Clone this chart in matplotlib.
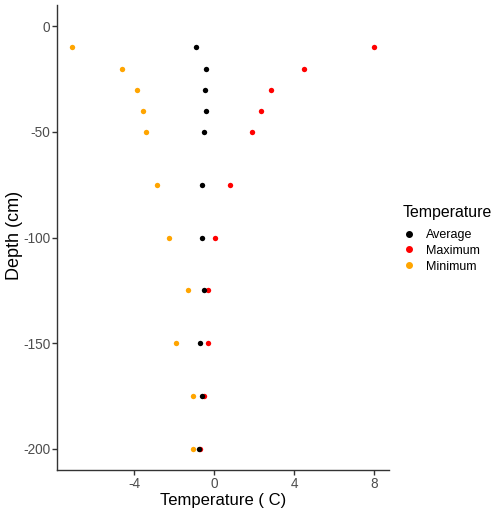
import numpy as np
import matplotlib
matplotlib.use("Agg")
import matplotlib.pyplot as plt

plt.rcParams['font.family'] = ['Liberation Sans', 'DejaVu Sans']
plt.rcParams['axes.unicode_minus'] = False

# depth of each sensor (cm) and temperatures (C)
depth = [-10, -20, -30, -40, -50, -75, -100, -125, -150, -175, -200]
t_avg = [-0.9, -0.41, -0.45, -0.43, -0.52, -0.6, -0.6, -0.53, -0.7, -0.63, -0.75]
t_max = [8.0, 4.5, 2.82, 2.35, 1.87, 0.79, 0.05, -0.3, -0.32, -0.5, -0.7]
t_min = [-7.1, -4.6, -3.88, -3.57, -3.4, -2.85, -2.25, -1.32, -1.93, -1.07, -1.07]

series = [("Average", t_avg, "black"), ("Maximum", t_max, "red"), ("Minimum", t_min, "orange")]

fig = plt.figure(figsize=(5.0, 5.12), dpi=100)
ax = fig.add_axes([57 / 500, 1 - 470 / 512, (389 - 57) / 500, (470 - 5) / 512])

# draw maximum first so average sits on top where they overlap
ax.scatter(t_max, depth, s=15, color="red", linewidths=0, zorder=3)
ax.scatter(t_avg, depth, s=15, color="black", linewidths=0, zorder=4)
ax.scatter(t_min, depth, s=15, color="orange", linewidths=0, zorder=3)

ax.set_xlim(-7.87, 8.73)
ax.set_ylim(-210, 10.1)
ax.set_xticks([-4, 0, 4, 8])
ax.set_yticks([0, -50, -100, -150, -200])

for side in ("top", "right"):
    ax.spines[side].set_visible(False)
for side in ("left", "bottom"):
    ax.spines[side].set_color("#333333")
    ax.spines[side].set_linewidth(1.0)
ax.tick_params(axis="both", colors="#333333", length=3.5, width=1.0,
               labelsize=9.8, labelcolor="#4D4D4D", pad=1.2)

ax.set_xlabel("Temperature ( C)", fontsize=12, labelpad=2)
ax.set_ylabel("Depth (cm)", fontsize=13)
ax.yaxis.set_label_coords(-0.103, 0.505)

# legend: title as separate text, entries below
fig.text(403 / 500, 1 - 213 / 512, "Temperature", fontsize=11.4,
         ha="left", va="center")
handles = [plt.Line2D([], [], marker="o", linestyle="", color=c, markersize=4)
           for _, _, c in series]
leg = ax.legend(handles, [n for n, _, _ in series],
                loc="upper left", bbox_to_anchor=(403 / 500, 1 - 229 / 512),
                bbox_transform=fig.transFigure, frameon=False,
                fontsize=9, handlelength=1.0, handletextpad=0.85,
                labelspacing=0.3, borderpad=0, borderaxespad=0)

fig.savefig("out.png", dpi=100)
